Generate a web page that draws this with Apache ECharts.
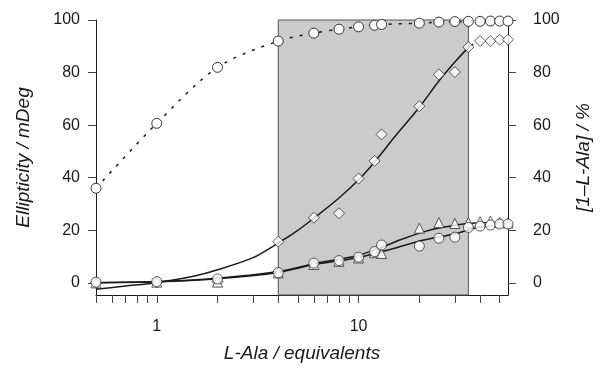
<!DOCTYPE html>
<html>
<head>
<meta charset="utf-8">
<script src="https://cdn.jsdelivr.net/npm/echarts@6/dist/echarts.min.js"></script>
<style>
  html, body { margin: 0; padding: 0; background: #fff; }
  #chart { width: 601px; height: 369px; }
</style>
</head>
<body>
<div id="chart"></div>
<script>
// L-Ala titration: CD ellipticity (left axis) + [1-L-Ala] % (right axis), log x

const X_PTS = [0.5, 1, 2, 4, 6, 8, 10, 12, 13, 20, 25, 30, 35, 40, 45, 50, 55];

// [1-L-Ala] / %  (dotted, right axis)
const PCT_Y      = [36, 60.7, 82, 92, 95, 96.5, 97.4, 98, 98.3, 98.8, 99.2, 99.4, 99.5, 99.5, 99.6, 99.6, 99.6];
// ellipticity markers (left axis)
const DIAMOND_Y  = [0, 0.2, 0.5, 15.7, 24.8, 26.5, 39.7, 46.4, 56.5, 67.2, 79.3, 80.2, 89.7, 92, 92, 92.5, 92.5];
const TRIANGLE_Y = [0, 0.3, 0.3, 3.8, 7, 8.2, 9.5, 11.5, 11.2, 20.8, 22.9, 22.6, 23, 23.3, 23.5, 23, 22.8];
const CIRCLE_Y   = [0.3, 0.5, 1.5, 3.9, 7.5, 8.5, 9.8, 11.9, 14.4, 14, 17, 17.4, 21.1, 21.6, 22, 22.4, 22.4];

// fitted curves
const DFIT_X = [0.5, 0.7, 1, 1.5, 2, 3, 4, 5, 6, 8, 10, 12, 15, 20, 25, 30, 35, 37];
const DFIT_Y = [-2.4, -1.2, 0.1, 2.4, 5, 9.6, 15.2, 20, 24.6, 32.3, 39.2, 46, 55.3, 66.8, 76.8, 84, 89.5, 90.8];
const TFIT_X = [0.5, 1, 2, 4, 6, 8, 10, 13, 16, 21, 25, 31, 35, 45, 55];
const TFIT_Y = [0.1, 0.5, 1.8, 4.3, 7.3, 9, 10.5, 13.5, 16.3, 19.4, 20.9, 22.1, 22.6, 23, 22.8];
const CFIT_X = [0.5, 1, 2, 4, 6, 8, 10, 14.5, 21, 31, 35, 45, 55];
const CFIT_Y = [0.1, 0.4, 1.6, 4, 7, 8.4, 9.7, 12.8, 16.3, 18.9, 20.2, 21.8, 22.2];

const SHADE = [4, 35];
const X_TICKS  = [0.5, 0.6, 0.7, 0.8, 0.9, 1, 2, 3, 4, 5, 6, 7, 8, 9, 10, 20, 30, 40, 50];
const X_LABELS = [1, 10];
const Y_TICKS  = [0, 20, 40, 60, 80, 100];

const FONT = "Liberation Sans";
const INK = "#1a1a1a";
const zip = (xs, ys) => xs.map((x, i) => [x, ys[i]]);

const chart = echarts.init(document.getElementById("chart"));

const markerBase = {
  type: "scatter", symbolSize: 10, z: 5,
  itemStyle: { color: "#fff", borderColor: "#333", borderWidth: 1 },
};
const fitBase = {
  type: "line", symbol: "none", smooth: 0.3, z: 3,
  lineStyle: { color: INK, width: 1.5 },
};

const yBase = {
  type: "value", min: -4.6, max: 100,
  axisLine: { show: true, lineStyle: { color: INK, width: 1 } },
  axisTick: { show: true, inside: false, length: 8, customValues: Y_TICKS, lineStyle: { color: "#444" } },
  axisLabel: { customValues: Y_TICKS, color: INK, fontFamily: FONT, fontSize: 16 },
  splitLine: { show: false },
  nameLocation: "middle", nameRotate: 90,
  nameTextStyle: { color: INK, fontFamily: FONT, fontSize: 19, fontStyle: "italic" },
};

chart.setOption({
  backgroundColor: "#fff", animation: false,
  grid: { left: 96, right: 93, top: 20, bottom: 74 },
  xAxis: {
    type: "log", logBase: 10, min: 0.5, max: 55,
    axisLine: { show: true, onZero: false, lineStyle: { color: INK, width: 1 } },
    axisTick: { show: true, length: 8, customValues: X_TICKS, lineStyle: { color: "#444" } },
    axisLabel: { customValues: X_LABELS, color: INK, fontFamily: FONT, fontSize: 16, margin: 24 },
    splitLine: { show: false }, minorTick: { show: false },
    name: "L-Ala / equivalents", nameLocation: "middle", nameGap: 49,
    nameTextStyle: { color: INK, fontFamily: FONT, fontSize: 19, fontStyle: "italic" },
  },
  yAxis: [
    { ...yBase, position: "left", name: "Ellipticity / mDeg", nameGap: 63,
      axisLabel: { ...yBase.axisLabel, margin: 16 } },
    { ...yBase, position: "right", name: "[1–L-Ala] / %", nameGap: 66,
      axisLabel: { ...yBase.axisLabel, margin: 25 } },
  ],
  series: [
    {
      ...fitBase, name: "diamond fit", data: zip(DFIT_X, DFIT_Y),
      markArea: {
        silent: true,
        itemStyle: { color: "#cbcbcb", borderColor: "#555", borderWidth: 1 },
        data: [[{ xAxis: SHADE[0] }, { xAxis: SHADE[1] }]],
      },
      z: 2,
    },
    { ...fitBase, name: "triangle fit", data: zip(TFIT_X, TFIT_Y) },
    { ...fitBase, name: "circle fit", data: zip(CFIT_X, CFIT_Y) },
    {
      name: "[1-L-Ala]", type: "line", yAxisIndex: 1, smooth: 0.3, z: 4,
      data: zip(X_PTS, PCT_Y),
      symbol: "circle", symbolSize: 10, showSymbol: true,
      lineStyle: { color: INK, width: 1.5, type: [3, 7] },
      itemStyle: { color: "#fff", borderColor: "#333", borderWidth: 1 },
    },
    { ...markerBase, name: "diamond", symbol: "diamond", symbolSize: 11, data: zip(X_PTS, DIAMOND_Y) },
    { ...markerBase, name: "triangle", symbol: "triangle", data: zip(X_PTS, TRIANGLE_Y) },
    { ...markerBase, name: "circle", symbol: "circle", data: zip(X_PTS, CIRCLE_Y) },
  ],
});
</script>
</body>
</html>
